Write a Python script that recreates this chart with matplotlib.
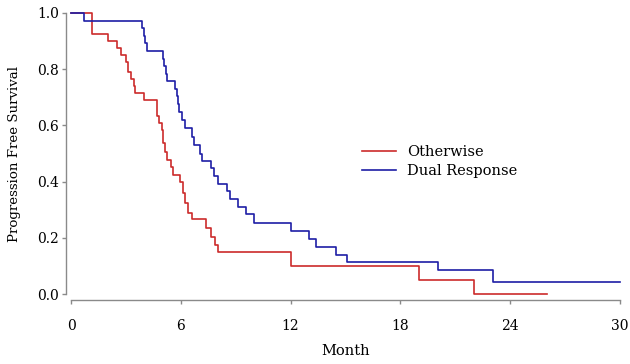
import matplotlib
matplotlib.use("Agg")
import matplotlib.pyplot as plt

plt.rcParams['font.family'] = ['DejaVu Serif']

# Otherwise group (red): event times (months) and survival after each step
red_t = [0, 1.13, 2.0, 2.5, 2.75, 3.0, 3.13, 3.3, 3.42, 3.5, 3.98, 4.68, 4.8, 4.95,
         5.05, 5.15, 5.23, 5.45, 5.6, 5.96, 6.1, 6.23, 6.41, 6.59, 7.4, 7.65, 7.85,
         8.05, 12.0, 19.0, 22.0, 26.0]
red_s = [1.0, 0.924, 0.90, 0.875, 0.85, 0.824, 0.79, 0.765, 0.74, 0.714, 0.69, 0.635,
         0.61, 0.584, 0.536, 0.505, 0.477, 0.453, 0.423, 0.40, 0.36, 0.323, 0.287,
         0.266, 0.234, 0.204, 0.174, 0.148, 0.10, 0.05, 0.0, 0.0]

# Dual Response group (blue)
blue_t = [0, 0.71, 3.86, 4.0, 4.07, 4.13, 5.0, 5.1, 5.2, 5.26, 5.68, 5.77, 5.85, 5.92,
          6.05, 6.25, 6.59, 6.7, 7.05, 7.14, 7.65, 7.8, 8.05, 8.5, 8.68, 9.1, 9.55,
          10.02, 12.0, 13.0, 13.4, 14.5, 15.06, 20.04, 23.08, 30.0]
blue_s = [1.0, 0.973, 0.946, 0.919, 0.892, 0.865, 0.838, 0.811, 0.784, 0.757, 0.73,
          0.703, 0.676, 0.649, 0.62, 0.59, 0.557, 0.53, 0.50, 0.474, 0.447, 0.42,
          0.392, 0.365, 0.338, 0.311, 0.284, 0.253, 0.224, 0.196, 0.167, 0.139,
          0.113, 0.085, 0.044, 0.044]

xticks = [0, 6, 12, 18, 24, 30]
yticks = [0.0, 0.2, 0.4, 0.6, 0.8, 1.0]
ytick_labels = ["0.0", "0.2", "0.4", "0.6", "0.8", "1.0"]
labels = ["Otherwise", "Dual Response"]

W, H = 630, 364
fig = plt.figure(figsize=(W / 100, H / 100), dpi=100)
ax = fig.add_axes([71 / W, (H - 294) / H, (620 - 71) / W, (294 - 13) / H])

red_c = '#CC2B2B'
blue_c = '#1E1EA6'
ax.step(red_t, red_s, where='post', color=red_c, lw=1.2, label=labels[0], clip_on=False)
ax.step(blue_t, blue_s, where='post', color=blue_c, lw=1.2, label=labels[1], clip_on=False)

ax.set_xlim(0, 30)
ax.set_ylim(0, 1)
for s in ['top', 'right']:
    ax.spines[s].set_visible(False)
ax.spines['left'].set_position(('outward', 3.5))
ax.spines['bottom'].set_position(('outward', 4))
ax.spines['left'].set_bounds(0, 1)
ax.spines['bottom'].set_bounds(0, 30)
for s in ['left', 'bottom']:
    ax.spines[s].set_color('#8a8a8a')
    ax.spines[s].set_linewidth(1.0)

ax.set_xticks(xticks)
ax.set_yticks(yticks)
ax.set_yticklabels(ytick_labels)
ax.tick_params(axis='both', colors='#8a8a8a', labelcolor='black', labelsize=10,
               length=3, width=1.0)
ax.tick_params(axis='x', pad=11)
ax.tick_params(axis='y', pad=2)

ax.set_xlabel("Month", fontsize=10.5, labelpad=8)
ax.set_ylabel("Progression Free Survival", fontsize=9.6, labelpad=12)

fig.legend(loc='upper left', bbox_to_anchor=(362 / W, 1 - 145 / H), frameon=False,
           fontsize=10.5, handlelength=2.3, handletextpad=0.8, labelspacing=0.35,
           borderpad=0, borderaxespad=0)

fig.savefig("out.png", dpi=100)
